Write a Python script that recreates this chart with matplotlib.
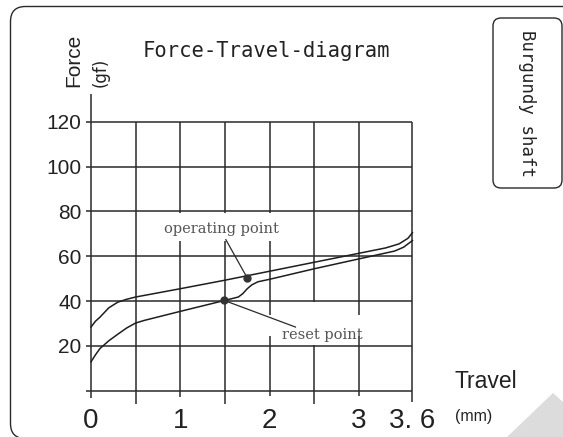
import matplotlib
matplotlib.use('Agg')
import matplotlib.pyplot as plt
from matplotlib.patches import FancyBboxPatch, Rectangle, Polygon
from matplotlib.transforms import IdentityTransform

W, H = 563, 437

# ---------------- data ----------------
travel_op = [0, 0.05, 0.1, 0.2, 0.3, 0.4, 0.5, 1.0, 1.5, 2.0, 2.5, 3.0, 3.3, 3.45, 3.55, 3.6]
force_op = [28.4, 31.0, 32.8, 37.0, 39.5, 40.8, 41.8, 45.5, 49.3, 53.3, 57.3, 61.3, 63.7, 65.5, 68.0, 70.5]

travel_rs = [0, 0.05, 0.1, 0.2, 0.3, 0.4, 0.5, 0.6, 1.0, 1.5, 1.65, 1.7, 1.75, 1.8, 1.87, 2.0,
             2.5, 3.0, 3.4, 3.5, 3.6]
force_rs = [12.9, 16.0, 18.8, 22.3, 25.2, 28.0, 30.2, 31.4, 35.4, 40.3, 41.8, 43.3, 45.5, 47.2,
            48.6, 49.7, 54.4, 58.8, 62.3, 64.0, 67.0]

operating_point = (1.75, 50.3)
reset_point = (1.49, 40.3)
op_label = "operating point"
rs_label = "reset point"
op_label_pos = (1.465, 72.2)
rs_label_pos = (2.585, 25.0)
op_leader_end = (1.51, 67.4)
rs_leader_end = (2.29, 28.4)

ytick_vals = [20, 40, 60, 80, 100, 120]
ytick_labels = ['20', '40', '60', '80', '100', '120']
xtick_vals = [0, 1, 2, 3, 3.6]
xtick_labels = ['0', '1', '2', '3', '3. 6']

grid_y = [0, 20, 40, 60, 80, 100, 120]
grid_x = [0.5, 1, 1.5, 2, 2.5, 3, 3.6]
grid_x_bottom = [-6, -3, -6, -2.5, -6, -2.5, -5]

title = "Force-Travel-diagram"
side_label = "Burgundy shaft"

LC = '#2a2a2a'

fig = plt.figure(figsize=(W / 100, H / 100), dpi=100)
fig.patch.set_facecolor('white')

def fx(px):
    return px / W

def fy(py):
    return 1 - py / H

# outer rounded frame (partially off-page)
frame = FancyBboxPatch((10.5, -1.5), 700, 432, boxstyle='round,pad=0,rounding_size=15',
                       transform=IdentityTransform(), fill=False, ec=LC, lw=1.0)
fig.add_artist(frame)

# side label box
side = FancyBboxPatch((493, 249), 69, 170, boxstyle='round,pad=0,rounding_size=8',
                      transform=IdentityTransform(), fill=False, ec=LC, lw=1.0)
fig.add_artist(side)
fig.text(fx(527.5), fy(104), side_label, rotation=-90, ha='center', va='center',
         family='DejaVu Sans Mono', fontsize=12.5, color='#222')

# page curl triangle
tri = Polygon([(507, 0), (553, 44), (563, 35), (563, 0)], closed=True,
              transform=IdentityTransform(), fc='#dcdcdc', ec='none')
fig.add_artist(tri)

ax = fig.add_axes([0.14577, 0.0700, 0.5900, 0.7233])
ax.set_xlim(-0.1, 3.62)
ax.set_ylim(-7, 134)
ax.set_frame_on(False)

# grid / axes lines
ax.hlines(grid_y, -0.06, 3.6, color=LC, lw=1.1, zorder=1)
ax.vlines(grid_x, grid_x_bottom, 120, color=LC, lw=1.1, zorder=1)
ax.vlines([0], -3.2, 132.3, color=LC, lw=1.1, zorder=1)

# white boxes behind labels
ax.add_patch(Rectangle((0.92, 67.0), 1.16, 12.4, fc='white', ec='none', zorder=2))
ax.add_patch(Rectangle((1.97, 24.4), 1.06, 9.2, fc='white', ec='none', zorder=2))
ax.add_patch(Rectangle((2.47, 20.6), 0.06, 19.0, fc='white', ec='none', zorder=2))

# curves
ax.plot(travel_op, force_op, color='#1e1e1e', lw=1.1, zorder=3, solid_joinstyle='round')
ax.plot(travel_rs, force_rs, color='#1e1e1e', lw=1.1, zorder=3, solid_joinstyle='round')

# leaders and points
ax.plot([operating_point[0], op_leader_end[0]], [operating_point[1], op_leader_end[1]],
        color=LC, lw=0.9, zorder=3)
ax.plot([reset_point[0], rs_leader_end[0]], [reset_point[1], rs_leader_end[1]],
        color=LC, lw=0.9, zorder=3)
ax.plot([operating_point[0], reset_point[0]], [operating_point[1], reset_point[1]],
        'o', ms=5, color='#333333', zorder=4)

ax.text(op_label_pos[0], op_label_pos[1], op_label, ha='center', va='center',
        family='DejaVu Serif', fontsize=10.5, color='#555555', zorder=5)
ax.text(rs_label_pos[0], rs_label_pos[1], rs_label, ha='center', va='center',
        family='DejaVu Serif', fontsize=10.5, color='#555555', zorder=5)

# ticks
ax.set_yticks(ytick_vals)
ax.set_yticklabels(ytick_labels, family='Liberation Sans', fontsize=15, color='#222')
ax.set_xticks(xtick_vals)
ax.set_xticklabels(xtick_labels, family='Liberation Sans', fontsize=20, color='#222')
ax.tick_params(axis='y', length=0, pad=0.3)
ax.tick_params(axis='x', length=0, pad=1.5)

# titles and axis labels
fig.text(fx(143), fy(57), title, ha='left', va='baseline',
         family='DejaVu Sans Mono', fontsize=14.8, color='#222')
fig.text(fx(73.5), fy(87), "Force", rotation=90, ha='center', va='bottom',
         family='Liberation Sans', fontsize=15, color='#222')
fig.text(fx(101), fy(87), "(gf)", rotation=90, ha='center', va='bottom',
         family='DejaVu Sans', fontsize=12, color='#222')
fig.text(fx(455), fy(387.5), "Travel", ha='left', va='baseline',
         family='Liberation Sans', fontsize=16.5, color='#222')
fig.text(fx(455), fy(417), "(mm)", ha='left', va='center',
         family='Liberation Sans', fontsize=11.5, color='#222')

fig.savefig('out.png', dpi=100, facecolor='white')
